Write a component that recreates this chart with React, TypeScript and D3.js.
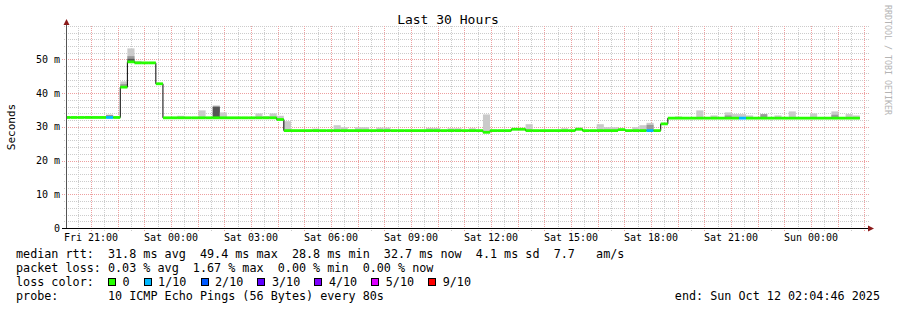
import React from 'react';
import * as d3 from 'd3';

// ---------- data ----------
const startTime = new Date(2025, 9, 10, 20, 4, 46);
const endTime = new Date(2025, 9, 12, 2, 4, 46);
const firstFullBucket = new Date(2025, 9, 10, 20, 13, 46);
const bucketMinutes = 16;

// median RTT per consolidated bucket (ms); index 0 is the partial first bucket
const median = [
  32.8, 32.8, 32.8, 32.8, 32.8, 32.8, 32.8, 32.8,
  41.8, 49.3, 49.0, 49.0, 49.0, 42.8,
  32.7, 32.7, 32.7, 32.7, 32.7, 32.7, 32.7, 32.7,
  32.7, 32.7, 32.7, 32.7, 32.7, 32.7, 32.7, 32.7,
  32.2,
  28.9, 28.9, 28.9, 28.9, 28.9, 28.9, 28.9, 28.9, 28.9, 28.9,
  28.9, 28.9, 28.9, 28.9, 28.9, 28.9, 28.9, 28.9, 28.9, 28.9,
  28.9, 28.9, 28.9, 28.9, 28.9, 28.9, 28.9, 28.9,
  28.4,
  28.9, 28.9, 28.9, 29.3, 29.3, 28.9, 28.9, 28.9, 28.9, 28.9,
  28.9, 28.9, 29.3, 28.9, 28.9, 28.9, 28.9, 28.9, 29.2, 28.9,
  28.9, 28.9, 28.9,
  28.9, 30.9,
  32.6, 32.6, 32.6, 32.6, 32.6, 32.6, 32.6, 32.6, 32.6, 32.6,
  32.6, 32.6, 32.6, 32.6, 32.6, 32.6, 32.6, 32.6, 32.6, 32.6,
  32.6, 32.6, 32.6, 32.6, 32.6, 32.6, 32.6,
];

// buckets with packet loss (index into median) and their loss level (x/10)
const lossIdx = [6, 82, 95];
const lossLevel = [1, 1, 1];

// smoke: bucket index, top of smoke (ms), shade (0 light, 1 mid, 2 dark)
const smokeIdx = [
  0, 3, 6, 8, 8, 9, 9, 9, 10, 16, 19, 21, 21, 22, 27, 28, 29, 30, 31, 35,
  38, 39, 41, 42, 44, 45, 51, 52, 54, 55, 57, 59, 65, 70, 72, 75, 76, 77,
  80, 81, 82, 82, 86, 89, 91, 93, 93, 94, 95, 96, 98, 100, 102, 105, 108,
  108, 110, 111,
];
const smokeTop = [
  33.1, 33.2, 33.6, 43.5, 42.7, 53.3, 51.0, 50.2, 49.6, 33.3, 34.9, 36.3,
  35.9, 34.3, 34.0, 33.2, 34.0, 33.3, 31.7, 29.5, 30.5, 29.9, 29.9, 29.9,
  29.8, 29.8, 29.7, 29.7, 29.6, 29.6, 29.6, 33.7, 30.8, 29.6, 29.8, 30.8,
  29.9, 29.9, 29.9, 30.5, 31.2, 30.6, 33.1, 34.9, 33.4, 34.3, 33.4, 33.8,
  33.8, 33.4, 33.8, 33.4, 34.6, 34.0, 34.6, 33.6, 33.8, 33.4,
];
const smokeShade = [
  0, 0, 1, 0, 1, 0, 1, 2, 0, 0, 0, 1, 2, 0, 0, 0, 0, 0, 0, 0, 0, 0, 0, 0,
  0, 0, 0, 0, 0, 0, 0, 0, 0, 0, 0, 0, 0, 0, 0, 0, 0, 1, 0, 0, 0, 0, 1, 0,
  0, 0, 1, 0, 0, 0, 0, 1, 0, 0,
];

const yTicks = [0, 10, 20, 30, 40, 50];
const yTickLabels = ['0', '10 m', '20 m', '30 m', '40 m', '50 m'];
const lossLegendLabels = ['0', '1/10', '2/10', '3/10', '4/10', '5/10', '9/10'];
const lossColors = ['#26ff00', '#00b8ff', '#0059ff', '#5e00ff', '#7e00ff', '#dd00ff', '#ff0000'];
const lossColorByLevel: Record<number, string> = { 0: '#26ff00', 1: '#00b8ff', 2: '#0059ff', 3: '#5e00ff', 4: '#7e00ff', 5: '#dd00ff', 9: '#ff0000' };
const smokeColors = ['#cacaca', '#9a9a9a', '#555555'];

const titleText = 'Last 30 Hours';
const yAxisTitle = 'Seconds';
const sideText = 'RRDTOOL / TOBI OETIKER';
const legendLine1 = 'median rtt:  31.8 ms avg  49.4 ms max  28.8 ms min  32.7 ms now  4.1 ms sd  7.7   am/s';
const legendLine2 = 'packet loss: 0.03 % avg  1.67 % max  0.00 % min  0.00 % now';
const legendLine3 = 'loss color:';
const legendLine4 = 'probe:       10 ICMP Echo Pings (56 Bytes) every 80s';
const endText = 'end: Sun Oct 12 02:04:46 2025';

// ---------- layout ----------
const W = 897;
const H = 310;
const X0 = 66.5;
const X1 = 866.5;
const Y0 = 228;
const MONO = '"DejaVu Sans Mono", "Liberation Mono", monospace';
const PRE: React.CSSProperties = { whiteSpace: 'pre' };

const bucketStart = (i: number) =>
  i === 0 ? startTime : d3.timeMinute.offset(firstFullBucket, (i - 1) * bucketMinutes);
const bucketEnd = (i: number) => d3.timeMinute.offset(firstFullBucket, i * bucketMinutes);

export default function App() {
  const x = d3.scaleTime().domain([startTime, endTime]).range([X0, X1]);
  const y = d3.scaleLinear().domain([0, 60]).range([Y0, 25.8]);

  const minorX = d3.timeMinute.every(30)!.range(startTime, endTime);
  const majorX = d3.timeHour.every(1)!.range(startTime, endTime);
  const labelX = d3.timeHour.every(3)!.range(startTime, endTime);
  const fmt = d3.timeFormat('%a %H:%M');
  const minorY = d3.range(2, 61, 2);
  const gridTop = Math.round(y(60));

  const stepPts: [Date, number][] = median.map((v, i) => [bucketStart(i), v] as [Date, number]);
  stepPts.push([bucketEnd(median.length - 1), median[median.length - 1]]);
  const stepLine = d3
    .line<[Date, number]>()
    .x((d) => x(d[0]))
    .y((d) => y(d[1]))
    .curve(d3.curveStepAfter);

  const CW = 7.07;
  const legendX = 16;
  const lossEntries: { bx: number; tx: number; label: string; color: string }[] = [];
  let bx = legendX + 13 * CW;
  lossLegendLabels.forEach((label, i) => {
    const tx = bx + 14.5;
    lossEntries.push({ bx, tx, label, color: lossColors[i] });
    bx = tx + label.length * CW + 2 * CW;
  });

  const hy = (v: number) => Math.round(y(v)) + 0.5;
  const vx = (t: Date) => Math.round(x(t)) + 0.5;

  return (
    <svg width={W} height={H} style={{ display: 'block', position: 'absolute', left: 0, top: 0, background: '#fff' }}>
      <rect x={0} y={0} width={W} height={H} fill="#ffffff" />
      {/* minor grid */}
      {minorY.map((v) => (
        <line key={'my' + v} x1={64} x2={869} y1={hy(v)} y2={hy(v)}
          stroke="#cccccc" strokeWidth={1} strokeDasharray="1,1" />
      ))}
      {minorX.map((t) => (
        <line key={'mx' + +t} x1={vx(t)} x2={vx(t)} y1={Y0 + 3} y2={gridTop}
          stroke="#cccccc" strokeWidth={1} strokeDasharray="1,1" />
      ))}
      {/* major grid */}
      {yTicks.filter((v) => v > 0).map((v) => (
        <line key={'My' + v} x1={62} x2={869} y1={hy(v)} y2={hy(v)}
          stroke="#eda0a0" strokeWidth={1} strokeDasharray="1,1" />
      ))}
      {majorX.map((t) => (
        <line key={'Mx' + +t} x1={vx(t)} x2={vx(t)} y1={Y0 + 3} y2={gridTop}
          stroke="#eda0a0" strokeWidth={1} strokeDasharray="1,1" />
      ))}

      {/* smoke */}
      {smokeIdx.map((bi, k) => {
        const xa = x(bucketStart(bi));
        const xb = x(bucketEnd(bi));
        const top = y(smokeTop[k]);
        const bot = y(median[bi]);
        return (
          <rect key={'s' + k} x={xa} width={xb - xa} y={top} height={Math.max(0, bot - top)}
            fill={smokeColors[smokeShade[k]]} />
        );
      })}

      {/* median step line */}
      <path d={stepLine(stepPts) || ''} fill="none" stroke="#000" strokeWidth={1} />

      {/* median colored band */}
      {median.map((v, i) => {
        const li = lossIdx.indexOf(i);
        const color = li >= 0 ? lossColorByLevel[lossLevel[li]] : lossColorByLevel[0];
        const xa = x(bucketStart(i));
        const xb = x(bucketEnd(i));
        return <rect key={'m' + i} x={xa} width={xb - xa} y={y(v) - 1.4} height={2.8} fill={color} />;
      })}

      {/* axes */}
      <line x1={X0} x2={X0} y1={Y0} y2={22} stroke="#555" strokeWidth={1} />
      <line x1={62} x2={869} y1={Y0 + 0.5} y2={Y0 + 0.5} stroke="#000" strokeWidth={1} />
      <path d={`M${X0 - 3},${25} L${X0 + 3},${25} L${X0},${19} Z`} fill="#8b1a1a" />
      <path d={`M${868},${Y0 + 0.5 - 3} L${868},${Y0 + 0.5 + 3} L${874},${Y0 + 0.5} Z`} fill="#8b1a1a" />

      {/* y tick labels */}
      {yTicks.map((v, i) => (
        <text key={'yl' + v} x={60} y={y(v)} dy="0.35em" textAnchor="end" fontFamily={MONO} fontSize={10} fill="#000"
          style={PRE} xmlSpace="preserve">
          {yTickLabels[i]}
        </text>
      ))}
      {/* x tick labels */}
      {labelX.map((t) => (
        <text key={'xl' + +t} x={x(t)} y={241} textAnchor="middle" fontFamily={MONO} fontSize={10} fill="#000">
          {fmt(t)}
        </text>
      ))}

      {/* titles */}
      <text x={448} y={24} textAnchor="middle" fontFamily={MONO} fontSize={13} fill="#000">{titleText}</text>
      <text transform="translate(15,127) rotate(-90)" textAnchor="middle" fontFamily={MONO} fontSize={11} fill="#000">
        {yAxisTitle}
      </text>
      <text transform="translate(884.5,5) rotate(90)" textAnchor="start" fontFamily={MONO} fontSize={8.3} fill="#b4b4b4">
        {sideText}
      </text>

      {/* legend */}
      <g fontFamily={MONO} fontSize={11.75} fill="#000">
        <text x={legendX} y={258} style={PRE} xmlSpace="preserve">{legendLine1}</text>
        <text x={legendX} y={272} style={PRE} xmlSpace="preserve">{legendLine2}</text>
        <text x={legendX} y={286} style={PRE} xmlSpace="preserve">{legendLine3}</text>
        {lossEntries.map((e) => (
          <g key={'le' + e.label}>
            <rect x={Math.round(e.bx) + 0.5} y={278.5} width={7} height={7} fill={e.color} stroke="#000" strokeWidth={1} />
            <text x={e.tx} y={286} style={PRE}>{e.label}</text>
          </g>
        ))}
        <text x={legendX} y={300} style={PRE} xmlSpace="preserve">{legendLine4}</text>
        <text x={880} y={300} textAnchor="end" style={PRE}>{endText}</text>
      </g>
    </svg>
  );
}
